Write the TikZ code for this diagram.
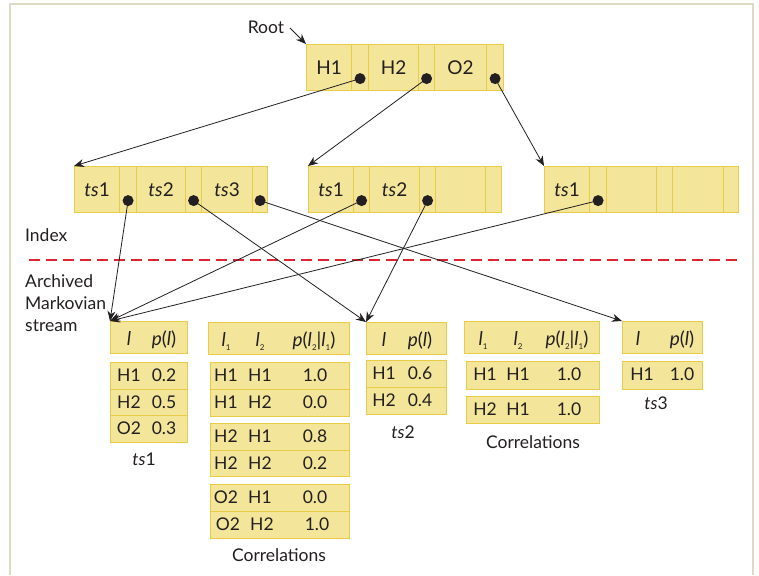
\documentclass[tikz,border=0pt]{standalone}
\usepackage{fontspec}
\setmainfont{Lato}
\usetikzlibrary{arrows.meta}
\definecolor{cellfill}{RGB}{243,230,155}
\definecolor{celldraw}{RGB}{232,204,72}
\definecolor{ink}{RGB}{35,31,32}
\definecolor{framecol}{RGB}{222,218,198}
\definecolor{dashred}{RGB}{222,35,50}
\newcommand\lsub[1]{\textit{l}\raisebox{-0.5ex}{\fontsize{8}{8}\selectfont #1}}
\newcommand\tsx[1]{\textit{ts}#1}
\tikzset{
  cell/.style={draw=celldraw, fill=cellfill, line width=1.2pt, inner sep=0pt,
    anchor=north west, text=ink, font=\fontsize{19}{21}\selectfont},
  dot/.style={circle, fill=ink, inner sep=0pt, minimum size=11pt},
  arr/.style={draw=ink, line width=0.8pt, -{Stealth[length=10pt,width=8pt]}},
  lbl/.style={text=ink, font=\fontsize{17.5}{20}\selectfont, inner sep=0pt},
  ttx/.style={text=ink, font=\fontsize{17.5}{20}\selectfont, inner sep=0pt, anchor=base},
  htx/.style={ttx, font=\fontsize{19}{21}\selectfont},
}
% \cellbox{name}{x1}{y1}{x2}{y2}{text}
\newcommand\cellbox[6]{\node[cell, minimum width=#4pt-#2pt, minimum height=#5pt-#3pt] (#1) at (#2,#3) {#6};}
% \ttext{name}{x}{baseline}{text}
\newcommand\ttext[4]{\node[ttx] (#1) at (#2,#3) {#4};}
\newcommand\htext[4]{\node[htx] (#1) at (#2,#3) {#4};}
\begin{document}
\begin{tikzpicture}[x=1pt,y=-1pt]
\useasboundingbox (0,0) rectangle (759,575);
\draw[framecol, line width=1.8pt] (10,575) -- (10,4) -- (753,4) -- (753,575);

% ---- root
\cellbox{rk1}{306}{44}{351}{90}{H1}
\cellbox{rp1}{351}{44}{368}{90}{}
\cellbox{rk2}{368}{44}{418}{90}{H2}
\cellbox{rp2}{418}{44}{434}{90}{}
\cellbox{rk3}{434}{44}{486}{90}{O2}
\cellbox{rp3}{486}{44}{503}{90}{}
\node[lbl] (rootlbl) at (266,27) {Root};
\coordinate (rootfrom) at (290,28);
\draw[arr] (rootfrom) -- (rk1.north west);

% ---- index A
\cellbox{aK1}{74}{166}{119}{212}{\tsx{1}}
\cellbox{aP1}{119}{166}{136}{212}{}
\cellbox{aK2}{136}{166}{185}{212}{\tsx{2}}
\cellbox{aP2}{185}{166}{201}{212}{}
\cellbox{aK3}{201}{166}{252}{212}{\tsx{3}}
\cellbox{aP3}{252}{166}{267}{212}{}
% ---- index B
\cellbox{bK1}{308}{166}{353}{212}{\tsx{1}}
\cellbox{bP1}{353}{166}{369}{212}{}
\cellbox{bK2}{369}{166}{419}{212}{\tsx{2}}
\cellbox{bP2}{419}{166}{435}{212}{}
\cellbox{bK3}{435}{166}{485}{212}{}
\cellbox{bP3}{485}{166}{501}{212}{}
% ---- index C
\cellbox{cK1}{544}{166}{589}{212}{\tsx{1}}
\cellbox{cP1}{589}{166}{606}{212}{}
\cellbox{cK2}{606}{166}{656}{212}{}
\cellbox{cP2}{656}{166}{672}{212}{}
\cellbox{cK3}{672}{166}{723}{212}{}
\cellbox{cP3}{723}{166}{738}{212}{}

\node[lbl, anchor=base west] (indexlbl) at (25,241) {Index};
\draw[dashred, line width=2pt, dash pattern=on 11pt off 6pt] (29,260) -- (737,260);
\node[lbl, anchor=base west] (arch1) at (25,287) {Archived};
\node[lbl, anchor=base west] (arch2) at (25,309) {Markovian};
\node[lbl, anchor=base west] (arch3) at (25,331) {stream};

% ---- ts1 table
\cellbox{T1h}{110}{321}{187}{353}{}
\htext{T1h-a}{129}{345}{\textit{l}}
\htext{T1h-b}{164}{345}{\textit{p}(\textit{l})}
\cellbox{T1a}{110}{362}{187}{389}{}
\ttext{T1a-a}{129}{381}{H1}\ttext{T1a-b}{164}{381}{0.2}
\cellbox{T1b}{110}{389}{187}{415}{}
\ttext{T1b-a}{129}{408}{H2}\ttext{T1b-b}{164}{408}{0.5}
\cellbox{T1c}{110}{415}{187}{442}{}
\ttext{T1c-a}{129}{434}{O2}\ttext{T1c-b}{164}{434}{0.3}
\ttext{T1lbl}{144}{465}{\tsx{1}}

% ---- correlations 1
\cellbox{C1h}{208}{322}{349}{354}{}
\htext{C1h-a}{226}{346}{\lsub{1}}
\htext{C1h-b}{260}{346}{\lsub{2}}
\htext{C1h-c}{314}{346}{\textit{p}(\lsub{2}|\lsub{1})}
\cellbox{C1a}{210}{362}{349}{389}{}
\ttext{C1a-a}{226}{381}{H1}\ttext{C1a-b}{260}{381}{H1}\ttext{C1a-c}{315}{381}{1.0}
\cellbox{C1b}{210}{389}{349}{416}{}
\ttext{C1b-a}{226}{408}{H1}\ttext{C1b-b}{260}{408}{H2}\ttext{C1b-c}{315}{408}{0.0}
\cellbox{C1c}{210}{423}{349}{450}{}
\ttext{C1c-a}{226}{442}{H2}\ttext{C1c-b}{260}{442}{H1}\ttext{C1c-c}{315}{442}{0.8}
\cellbox{C1d}{210}{450}{349}{476}{}
\ttext{C1d-a}{226}{469}{H2}\ttext{C1d-b}{260}{469}{H2}\ttext{C1d-c}{315}{469}{0.2}
\cellbox{C1e}{210}{484}{349}{511}{}
\ttext{C1e-a}{226}{503}{O2}\ttext{C1e-b}{260}{503}{H1}\ttext{C1e-c}{315}{503}{0.0}
\cellbox{C1f}{210}{511}{349}{538}{}
\ttext{C1f-a}{228}{530}{O2}\ttext{C1f-b}{262}{530}{H2}\ttext{C1f-c}{317}{530}{1.0}
\ttext{C1lbl}{279}{561}{Correlations}

% ---- ts2 table
\cellbox{T2h}{366}{322}{446}{354}{}
\htext{T2h-a}{384}{346}{\textit{l}}
\htext{T2h-b}{420}{346}{\textit{p}(\textit{l})}
\cellbox{T2a}{366}{360}{446}{387}{}
\ttext{T2a-a}{384}{379}{H1}\ttext{T2a-b}{420}{379}{0.6}
\cellbox{T2b}{366}{387}{446}{414}{}
\ttext{T2b-a}{384}{406}{H2}\ttext{T2b-b}{420}{406}{0.4}
\ttext{T2lbl}{403}{438}{\tsx{2}}

% ---- correlations 2
\cellbox{C2h}{464}{321}{599}{353}{}
\htext{C2h-a}{483}{345}{\lsub{1}}
\htext{C2h-b}{518}{345}{\lsub{2}}
\htext{C2h-c}{567}{345}{\textit{p}(\lsub{2}|\lsub{1})}
\cellbox{C2a}{466}{361}{599}{389}{}
\ttext{C2a-a}{485}{380}{H1}\ttext{C2a-b}{518}{380}{H1}\ttext{C2a-c}{569}{380}{1.0}
\cellbox{C2b}{466}{396}{599}{423}{}
\ttext{C2b-a}{485}{415}{H2}\ttext{C2b-b}{518}{415}{H1}\ttext{C2b-c}{569}{415}{1.0}
\ttext{C2lbl}{533}{448}{Correlations}

% ---- ts3 table
\cellbox{T3h}{622}{321}{702}{353}{}
\htext{T3h-a}{638}{345}{\textit{l}}
\htext{T3h-b}{682}{345}{\textit{p}(\textit{l})}
\cellbox{T3a}{622}{361}{702}{389}{}
\ttext{T3a-a}{642}{380}{H1}\ttext{T3a-b}{682}{380}{1.0}
\ttext{T3lbl}{656}{409}{\tsx{3}}

% ---- dots
\node[dot] (rd1) at ([yshift=-11pt]rp1.center) {};
\node[dot] (rd2) at ([yshift=-11pt]rp2.center) {};
\node[dot] (rd3) at ([yshift=-11pt]rp3.center) {};
\node[dot] (ad1) at ([yshift=-11pt]aP1.center) {};
\node[dot] (ad2) at ([yshift=-11pt]aP2.center) {};
\node[dot] (ad3) at ([yshift=-11pt]aP3.center) {};
\node[dot] (bd1) at ([yshift=-11pt]bP1.center) {};
\node[dot] (bd2) at ([yshift=-11pt]bP2.center) {};
\node[dot] (cd1) at ([yshift=-11pt]cP1.center) {};

% ---- connectors
\draw[arr] (rd1.center) -- (aK1.north west);
\draw[arr] (rd2.center) -- (bK1.north west);
\draw[arr] (rd3.center) -- (cK1.north west);
\draw[arr] (ad1.center) -- (T1h.north west);
\draw[arr] (bd1.center) -- (T1h.north west);
\draw[arr] (cd1.center) -- (T1h.north west);
\draw[arr] (ad2.center) -- (T2h.north west);
\draw[arr] (bd2.center) -- (T2h.north west);
\draw[arr] (ad3.center) -- (T3h.north west);
\end{tikzpicture}
\end{document}
